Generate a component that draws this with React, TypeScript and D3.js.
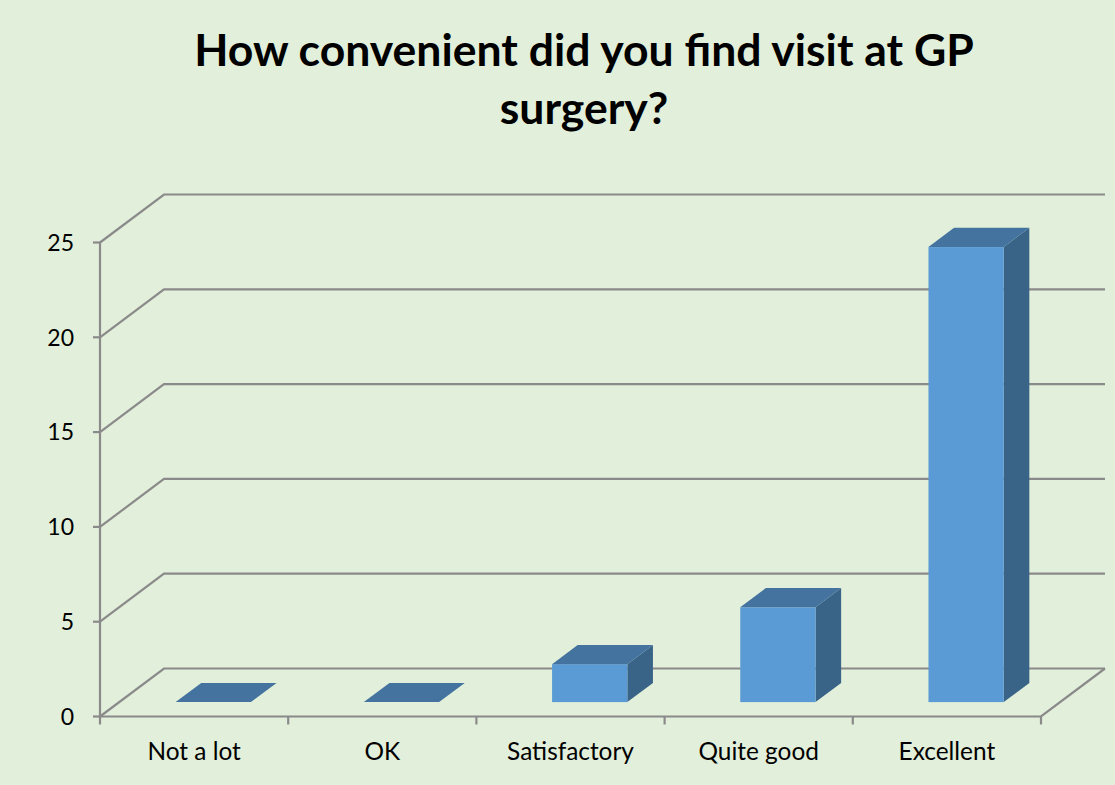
import React from 'react';
import * as d3 from 'd3';

const categories = ['Not a lot', 'OK', 'Satisfactory', 'Quite good', 'Excellent'];
const values = [0, 0, 2, 5, 24];
const yTicks = [0, 5, 10, 15, 20, 25];
const titleLines = ['How convenient did you find visit at GP', 'surgery?'];

const W = 1115;
const H = 785;
const BG = '#E2EFDA';
const GRID = '#8A8A8A';
const FONT = 'Lato, "Open Sans", sans-serif';

// oblique depth of the floor (front plane -> back wall)
const depth = { dx: 64, dy: -48 };

const App = () => {
  const x = d3.scaleBand<string>().domain(categories).range([100, 1041]).padding(0);
  const y = d3.scaleLinear().domain([0, 25]).range([716.5, 242.5]);
  const step = x.step();
  const barW = step * 0.4;
  const fFront = 0.3;
  const fBack = 0.7;

  const y0 = y(0);
  const xL = x.range()[0];
  const xR = x.range()[1];

  const pts = (arr: [number, number][]) => arr.map(p => p.join(',')).join(' ');

  return (
    <svg
      width={W}
      height={H}
      style={{ position: 'absolute', left: 0, top: 0, display: 'block' }}
      fontFamily={FONT}
    >
      <rect width={W} height={H} fill={BG} />

      {/* title */}
      {titleLines.map((t, i) => (
        <text
          key={t}
          x={584}
          y={66 + i * 58}
          textAnchor="middle"
          fontSize={44.5}
          fontWeight="bold"
          fill="#000"
        >
          {t}
        </text>
      ))}

      {/* back wall gridlines */}
      <g fill="none" stroke={GRID} strokeWidth={2.2}>
        {yTicks.map(t => (
          <polyline
            key={t}
            points={pts([
              [xL, y(t)],
              [xL + depth.dx, y(t) + depth.dy],
              [xR + depth.dx, y(t) + depth.dy],
            ])}
          />
        ))}
        {/* floor front edge and right edge */}
        <polyline
          points={pts([
            [xL, y0],
            [xR, y0],
            [xR + depth.dx, y0 + depth.dy],
          ])}
        />
        {/* vertical axis */}
        <line x1={xL} x2={xL} y1={y(25)} y2={y0} />
        {/* y ticks */}
        {yTicks.map(t => (
          <line key={t} x1={xL - 7} x2={xL} y1={y(t)} y2={y(t)} />
        ))}
        {/* x ticks */}
        {[...categories.map(c => x(c) as number), xR].map((v, i) => (
          <line key={i} x1={v} x2={v} y1={y0} y2={y0 + 8} />
        ))}
      </g>

      {/* y labels */}
      {yTicks.map(t => (
        <text
          key={t}
          x={74}
          y={y(t)}
          dy="0.36em"
          textAnchor="end"
          fontSize={23}
          fill="#000"
        >
          {t}
        </text>
      ))}

      {/* x labels */}
      {categories.map(c => (
        <text
          key={c}
          x={(x(c) as number) + step / 2}
          y={760}
          textAnchor="middle"
          fontSize={24.4}
          fill="#000"
        >
          {c}
        </text>
      ))}

      {/* 3D bars */}
      {categories.map((c, i) => {
        const v = values[i];
        const fx = (x(c) as number) + (step - barW) / 2 + depth.dx * fFront;
        const fyOff = depth.dy * fFront;
        const bx = depth.dx * (fBack - fFront);
        const by = depth.dy * (fBack - fFront);
        const base = y0 + fyOff;
        const top = y(v) + fyOff;
        return (
          <g key={c}>
            {/* side */}
            <polygon
              points={pts([
                [fx + barW, top],
                [fx + barW + bx, top + by],
                [fx + barW + bx, base + by],
                [fx + barW, base],
              ])}
              fill="#396487"
            />
            {/* front */}
            <rect x={fx} y={top} width={barW} height={base - top} fill="#5B9BD5" />
            {/* top */}
            <polygon
              points={pts([
                [fx, top],
                [fx + barW, top],
                [fx + barW + bx, top + by],
                [fx + bx, top + by],
              ])}
              fill="#43739E"
            />
          </g>
        );
      })}
    </svg>
  );
};

export default App;
